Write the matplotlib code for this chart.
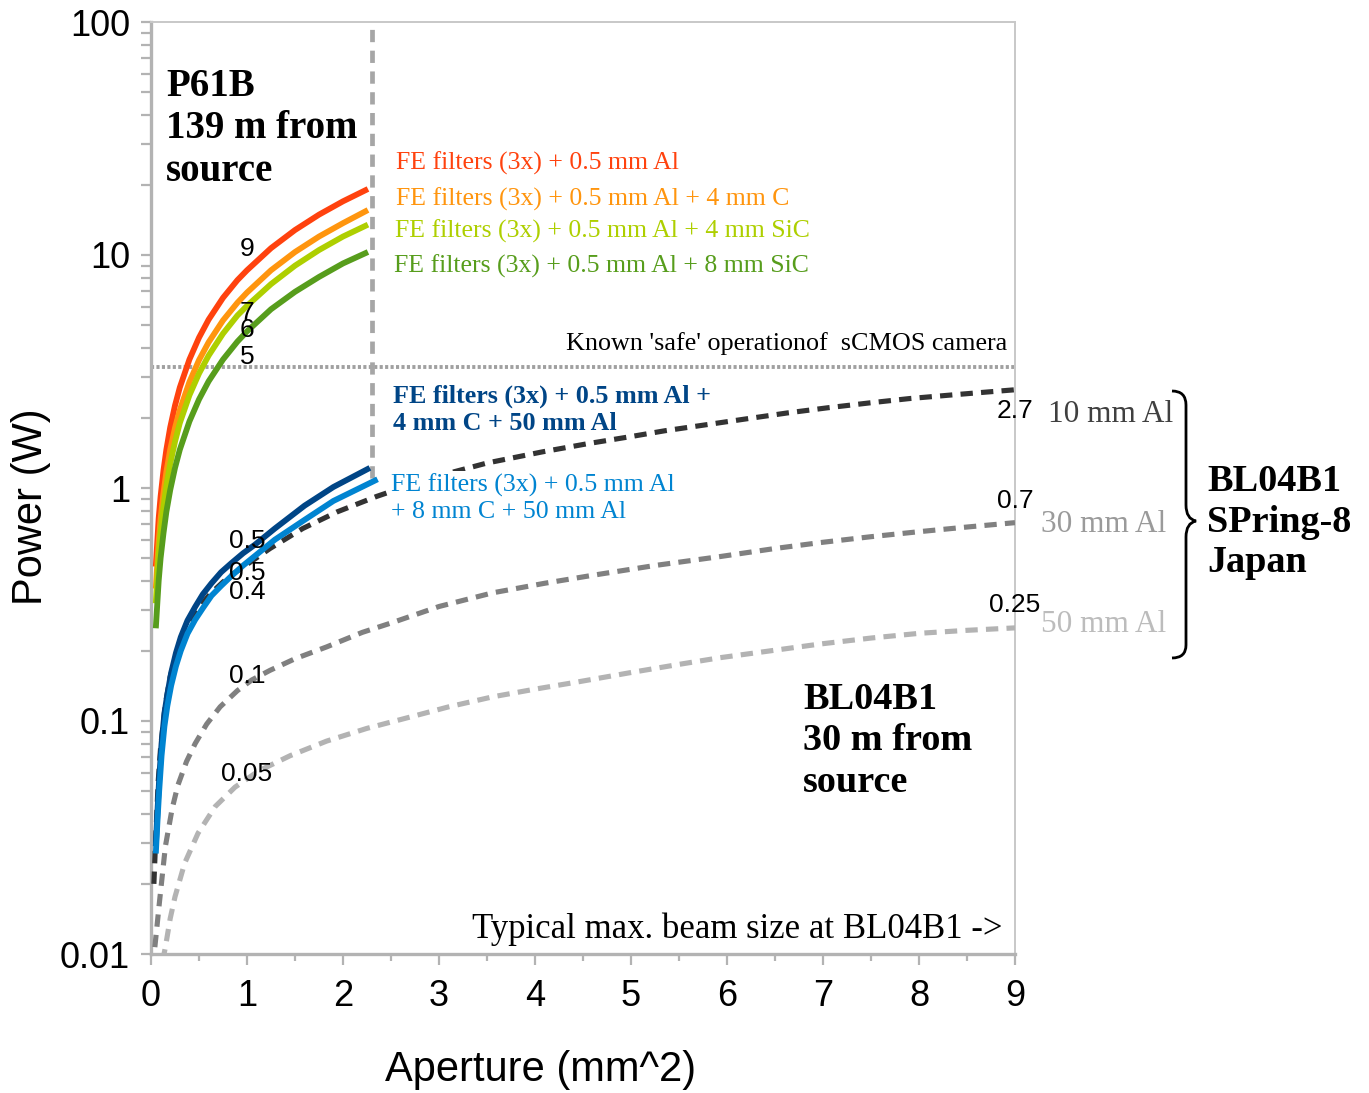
import matplotlib
matplotlib.use('Agg')
import matplotlib.pyplot as plt
from matplotlib.path import Path
from matplotlib.patches import PathPatch
from matplotlib.ticker import MultipleLocator, NullFormatter, FixedLocator

# ---------------- data ----------------
# P61B, 139 m from source (solid lines)
x_p61 = [0.05, 0.08, 0.1, 0.13, 0.16, 0.2, 0.25, 0.3, 0.4, 0.5, 0.6, 0.75, 0.9, 1.0,
         1.25, 1.5, 1.75, 2.0, 2.26]
p61_al05 = [0.46, 0.74, 0.92, 1.19, 1.46, 1.82, 2.26, 2.7, 3.56, 4.42, 5.28, 6.55, 7.8, 8.6,
            10.7, 12.8, 14.9, 17.0, 19.2]
p61_al05_c4 = [0.37, 0.59, 0.74, 0.95, 1.17, 1.46, 1.81, 2.16, 2.85, 3.54, 4.22, 5.24, 6.24, 6.9,
               8.6, 10.3, 12.0, 13.7, 15.6]
p61_al05_sic4 = [0.32, 0.52, 0.645, 0.83, 1.02, 1.27, 1.58, 1.9, 2.5, 3.1, 3.7, 4.6, 5.5, 6.05,
                 7.5, 9.0, 10.5, 12.0, 13.5]
p61_al05_sic8 = [0.25, 0.4, 0.5, 0.64, 0.79, 0.98, 1.22, 1.46, 1.93, 2.4, 2.87, 3.56, 4.25, 4.7,
                 5.85, 6.95, 8.05, 9.2, 10.3]

x_c4 = [0.05, 0.07, 0.085, 0.11, 0.14, 0.17, 0.21, 0.26, 0.31, 0.38, 0.46, 0.54, 0.63, 0.73,
        0.84, 0.96, 1.08, 1.29, 1.6, 1.9, 2.28]
p61_c4_al50 = [0.029, 0.043, 0.056, 0.08, 0.108, 0.13, 0.161, 0.196, 0.229, 0.27, 0.309, 0.35,
               0.39, 0.435, 0.477, 0.525, 0.57, 0.67, 0.84, 1.01, 1.22]
x_c8 = [0.05, 0.07, 0.085, 0.11, 0.14, 0.17, 0.21, 0.26, 0.31, 0.38, 0.46, 0.54, 0.63, 0.73,
        0.84, 0.96, 1.08, 1.29, 1.6, 1.9, 2.36]
p61_c8_al50 = [0.027, 0.039, 0.05, 0.071, 0.095, 0.116, 0.142, 0.172, 0.2, 0.237, 0.272, 0.305,
               0.345, 0.38, 0.42, 0.465, 0.51, 0.6, 0.73, 0.88, 1.09]

# BL04B1, 30 m from source (dashed lines)
x_al10 = [0.03, 0.05, 0.075, 0.1, 0.15, 0.2, 0.3, 0.4, 0.5, 0.62, 0.75, 0.87, 1.0, 1.24, 1.58,
          1.94, 2.35, 2.9, 3.5, 4.08, 4.55, 4.99, 5.35, 5.75, 6.2, 6.63, 7.05, 7.49, 7.9, 8.35,
          8.7, 9.0]
bl_al10 = [0.02, 0.032, 0.055, 0.077, 0.118, 0.155, 0.215, 0.265, 0.307, 0.352, 0.395, 0.432,
           0.47, 0.55, 0.67, 0.79, 0.92, 1.1, 1.28, 1.43, 1.55, 1.66, 1.76, 1.86, 1.98, 2.1,
           2.21, 2.32, 2.42, 2.51, 2.58, 2.64]
x_al30 = [0.04, 0.09, 0.15, 0.22, 0.28, 0.37, 0.46, 0.58, 0.72, 0.9, 1.05, 1.24, 1.5, 1.83,
          2.2, 2.52, 3.0, 3.56, 4.1, 4.6, 5.25, 5.93, 6.5, 6.97, 7.5, 8.01, 8.5, 9.0]
bl_al30 = [0.0107, 0.017, 0.029, 0.042, 0.053, 0.067, 0.08, 0.097, 0.115, 0.135, 0.15, 0.165,
           0.185, 0.208, 0.24, 0.265, 0.31, 0.355, 0.39, 0.422, 0.465, 0.508, 0.55, 0.583,
           0.618, 0.65, 0.68, 0.71]
x_al50 = [0.12, 0.15, 0.2, 0.25, 0.35, 0.49, 0.67, 0.875, 1.12, 1.45, 1.83, 2.25, 2.7, 3.1,
          3.56, 4.0, 4.44, 5.02, 5.5, 5.93, 6.45, 6.97, 7.5, 8.01, 8.5, 9.0]
bl_al50 = [0.0093, 0.0107, 0.0142, 0.0176, 0.0245, 0.033, 0.043, 0.052, 0.061, 0.071, 0.082,
           0.093, 0.104, 0.115, 0.127, 0.137, 0.147, 0.162, 0.175, 0.187, 0.2, 0.214, 0.227,
           0.238, 0.245, 0.251]

safe_power = 3.3          # known safe operation of sCMOS camera (W)
beam_limit_x = 2.3        # typical max. beam size at BL04B1
beam_limit_ymin = 1.1

y_ticks = [0.01, 0.1, 1, 10, 100]
y_ticklabels = ['0.01', '0.1', '1', '10', '100']
x_ticks = list(range(10))

# data labels: (x, y, text)
labels_p61 = [(1.0, 10.6, '9'), (1.0, 5.64, '7'), (1.0, 4.77, '6'), (1.0, 3.65, '5')]
labels_low = [(1.0, 0.593, '0.5'), (1.0, 0.432, '0.5'), (1.0, 0.358, '0.4'),
              (1.0, 0.156, '0.1'), (1.0, 0.0593, '0.05')]
labels_end = [(9.0, 2.14, '2.7'), (9.0, 0.879, '0.7'), (9.0, 0.315, '0.25')]

# ---------------- styling ----------------
C_RED = '#ff420e'
C_ORANGE = '#ff950e'
C_YGREEN = '#aecf00'
C_GREEN = '#579d1c'
C_DBLUE = '#004586'
C_LBLUE = '#0084d1'
C_D1 = '#333333'
C_D2 = '#808080'
C_D3 = '#b3b3b3'
AX_GRAY = '#b3b3b3'

SERIF = ['Liberation Serif', 'DejaVu Serif']
SANS = ['Liberation Sans', 'DejaVu Sans']
plt.rcParams['font.family'] = SANS

W, H = 1369, 1093
fig = plt.figure(figsize=(W / 100, H / 100), dpi=100)
ax = fig.add_axes([151 / W, 1 - 954 / H, 864 / W, 932 / H])

def fpos(px, py):
    return px / W, 1 - py / H

lw_solid = 4.2
for xs, ys, c in [(x_p61, p61_al05, C_RED), (x_p61, p61_al05_c4, C_ORANGE),
                  (x_p61, p61_al05_sic4, C_YGREEN), (x_p61, p61_al05_sic8, C_GREEN),
                  (x_c4, p61_c4_al50, C_DBLUE), (x_c8, p61_c8_al50, C_LBLUE)]:
    ax.plot(xs, ys, color=c, lw=lw_solid, solid_capstyle='butt', solid_joinstyle='round',
            zorder=4)

dash = (2.4, 1.6)
for xs, ys, c in [(x_al10, bl_al10, C_D1), (x_al30, bl_al30, C_D2), (x_al50, bl_al50, C_D3)]:
    ax.plot(xs, ys, color=c, lw=3.7, dashes=dash, dash_capstyle='butt', zorder=3)

# reference lines
ax.plot([0, 9], [safe_power, safe_power], color='#a0a0a0', lw=2.8, dashes=(0.8, 0.6),
        dash_capstyle='butt', zorder=2)
ax.plot([beam_limit_x, beam_limit_x], [beam_limit_ymin, 100], color='#a6a6a6', lw=3.4,
        dashes=(2.6, 1.8), dash_capstyle='butt', zorder=2)

# axes
ax.set_yscale('log')
ax.set_ylim(0.01, 100)
ax.set_xlim(0, 9)
ax.yaxis.set_major_locator(FixedLocator(y_ticks))
ax.set_yticklabels(y_ticklabels)
ax.yaxis.set_minor_formatter(NullFormatter())
ax.xaxis.set_major_locator(FixedLocator(x_ticks))
ax.xaxis.set_minor_locator(MultipleLocator(0.5))
ax.tick_params(axis='y', which='both', direction='out', length=7, width=1.6, color=AX_GRAY,
               labelsize=26, pad=8)
ax.tick_params(axis='x', which='major', direction='out', length=8, width=1.6, color=AX_GRAY,
               labelsize=26, pad=10)
ax.tick_params(axis='x', which='minor', direction='out', length=5, width=1.6, color=AX_GRAY)
for s in ['left', 'bottom']:
    ax.spines[s].set_color(AX_GRAY)
    ax.spines[s].set_linewidth(2.4)
for s in ['top', 'right']:
    ax.spines[s].set_color('#c8c8c8')
    ax.spines[s].set_linewidth(1.4)

ax.set_xlabel('Aperture (mm^2)', fontsize=30, va='center')
ax.xaxis.set_label_coords(0.451, -0.1245)
ax.set_ylabel('Power (W)', fontsize=30, va='center')
ax.yaxis.set_label_coords(-0.139, 0.4796)

# data labels
for x, y, t in labels_p61 + labels_low + labels_end:
    ax.text(x, y, t, fontsize=19, ha='center', va='center', color='black', zorder=6)

# annotations
def ftext(px, py, s, **kw):
    fx, fy = fpos(px, py)
    return fig.text(fx, fy, s, **kw)

ftext(166, 129, 'P61B\n139 m from\nsource', family=SERIF, weight='bold', fontsize=28,
      ha='left', va='center', linespacing=1.2)
ftext(803, 741, 'BL04B1\n30 m from\nsource', family=SERIF, weight='bold', fontsize=27.5,
      ha='left', va='center', linespacing=1.23)
ftext(1207, 522, 'BL04B1\nSPring-8\nJapan', family=SERIF, weight='bold', fontsize=27.5,
      ha='left', va='center', linespacing=1.2)

legend_items = [(396, 163, 'FE filters (3x) + 0.5 mm Al', C_RED),
                (396, 199, 'FE filters (3x) + 0.5 mm Al + 4 mm C', C_ORANGE),
                (395, 231, 'FE filters (3x) + 0.5 mm Al + 4 mm SiC', C_YGREEN),
                (394, 266, 'FE filters (3x) + 0.5 mm Al + 8 mm SiC', C_GREEN)]
for px, py, s, c in legend_items:
    ftext(px, py, s, family=SERIF, fontsize=18.5, color=c, ha='left', va='center')

ftext(393, 410, 'FE filters (3x) + 0.5 mm Al +\n4 mm C + 50 mm Al', family=SERIF, weight='bold',
      fontsize=18.8, color=C_DBLUE, ha='left', va='center', linespacing=1.25)
ftext(391, 498, 'FE filters (3x) + 0.5 mm Al\n+ 8 mm C + 50 mm Al', family=SERIF,
      fontsize=18.6, color=C_LBLUE, ha='left', va='center', linespacing=1.25,
      bbox=dict(facecolor='white', edgecolor='none', pad=1.5), zorder=5)

ftext(1007, 344, "Known 'safe' operationof  sCMOS camera", family=SERIF, fontsize=18.8,
      ha='right', va='center')
ftext(1003, 929, 'Typical max. beam size at BL04B1 ->', family=SERIF, fontsize=25,
      ha='right', va='center')

ftext(1048, 414, '10 mm Al', family=SERIF, fontsize=22.5, color='#404040', ha='left', va='center')
ftext(1041, 525, '30 mm Al', family=SERIF, fontsize=22.5, color='#9a9a9a', ha='left', va='center')
ftext(1041, 625, '50 mm Al', family=SERIF, fontsize=22.5, color='#bcbcbc', ha='left', va='center')

# curly brace
bp = [(1172, 391), (1186, 391), (1186, 405), (1186, 505), (1186, 519), (1196, 521),
      (1186, 523), (1186, 537), (1186, 645), (1186, 658), (1172, 658)]
codes = [Path.MOVETO, Path.CURVE3, Path.CURVE3, Path.LINETO, Path.CURVE3, Path.CURVE3,
         Path.CURVE3, Path.CURVE3, Path.LINETO, Path.CURVE3, Path.CURVE3]
brace = Path([fpos(px, py) for px, py in bp], codes)
fig.add_artist(PathPatch(brace, transform=fig.transFigure, facecolor='none',
                         edgecolor='black', lw=2.0))

fig.savefig('out.png', dpi=100)
